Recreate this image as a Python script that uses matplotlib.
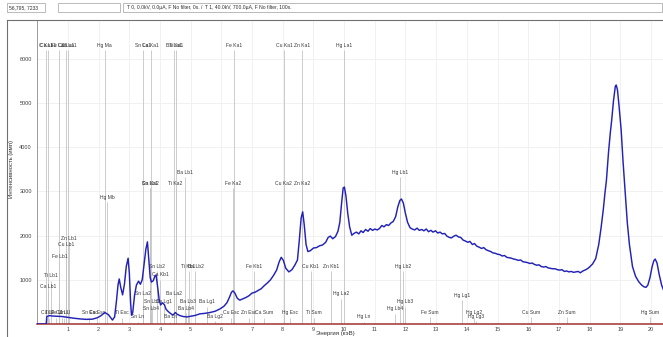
import matplotlib
matplotlib.use("Agg")
import matplotlib.pyplot as plt
from matplotlib.lines import Line2D
from matplotlib.patches import Rectangle

plt.rcParams['font.family'] = ['Liberation Sans', 'DejaVu Sans']

W, H = 663, 337

# ---------------------------------------------------------------------
# spectrum (keV, counts)
# ---------------------------------------------------------------------
energy = [
    0.00, 0.29, 0.31, 0.40, 0.50, 0.65, 0.80, 1.00, 1.20, 1.40, 1.60, 1.80,
    1.95, 2.08, 2.20, 2.32, 2.45, 2.52, 2.58, 2.63, 2.67, 2.72, 2.78, 2.84,
    2.90, 2.96, 3.00, 3.04, 3.07, 3.11, 3.17, 3.23, 3.30, 3.36, 3.42, 3.48,
    3.54, 3.59, 3.63, 3.68, 3.72, 3.78, 3.83, 3.87, 3.92, 3.97, 4.02, 4.08,
    4.14, 4.20, 4.27, 4.34, 4.42, 4.50, 4.56, 4.65, 4.75, 4.88, 5.00, 5.15,
    5.30, 5.45, 5.63, 5.80, 5.95, 6.08, 6.18, 6.26, 6.33, 6.38, 6.44, 6.52,
    6.60, 6.70, 6.80, 6.90, 7.00, 7.10, 7.20, 7.30, 7.40, 7.50, 7.60, 7.70,
    7.80, 7.88, 7.95, 8.02, 8.10, 8.20, 8.30, 8.40, 8.48, 8.54, 8.60, 8.65,
    8.70, 8.76, 8.82, 8.90, 9.00, 9.10, 9.20, 9.30, 9.40, 9.48, 9.55, 9.63,
    9.72, 9.80, 9.86, 9.92, 9.97, 10.01, 10.06, 10.12, 10.18, 10.25, 10.32,
    10.40, 10.48, 10.55, 10.62, 10.70, 10.78, 10.85, 10.93, 11.00, 11.08,
    11.15, 11.23, 11.30, 11.38, 11.45, 11.53, 11.60, 11.68, 11.75, 11.82,
    11.87, 11.93, 12.00, 12.07, 12.15, 12.22, 12.30, 12.38, 12.45, 12.53,
    12.60, 12.68, 12.75, 12.83, 12.90, 12.98, 13.05, 13.13, 13.20, 13.28,
    13.35, 13.43, 13.50, 13.58, 13.65, 13.73, 13.80, 13.88, 13.95, 14.03,
    14.10, 14.18, 14.25, 14.33, 14.40, 14.48, 14.55, 14.63, 14.70, 14.78,
    14.85, 14.93, 15.00, 15.08, 15.15, 15.23, 15.30, 15.38, 15.45, 15.53,
    15.60, 15.68, 15.75, 15.83, 15.90, 15.98, 16.05, 16.13, 16.20, 16.28,
    16.35, 16.43, 16.50, 16.58, 16.65, 16.73, 16.80, 16.88, 16.95, 17.03,
    17.10, 17.18, 17.25, 17.33, 17.40, 17.48, 17.55, 17.63, 17.70, 17.78,
    17.85, 17.93, 18.00, 18.10, 18.20, 18.30, 18.38, 18.45, 18.50, 18.55,
    18.62, 18.68, 18.72, 18.78, 18.84, 18.87, 18.91, 18.96, 19.03, 19.09,
    19.16, 19.23, 19.30, 19.40, 19.50, 19.60, 19.70, 19.78, 19.84, 19.90,
    19.97, 20.04, 20.10, 20.14, 20.20, 20.27, 20.35, 20.45,
]
counts = [
    0, 0, 170, 190, 180, 175, 170, 150, 130, 115, 105, 110,
    140, 190, 260, 210, 90, 160, 520, 880, 1020, 830, 660, 900,
    1300, 1490, 1150, 500, 200, 260, 650, 880, 970, 900, 1000, 1350,
    1700, 1860, 1500, 1050, 950, 980, 1080, 1110, 850, 560, 430, 480,
    440, 330, 280, 240, 200, 260, 220, 190, 170, 160, 175, 195,
    230, 240, 260, 290, 340, 400, 480, 600, 720, 750, 700, 580,
    540, 570, 600, 640, 700, 720, 760, 800, 870, 930, 1000, 1100,
    1220, 1400, 1510, 1440, 1260, 1180, 1230, 1340, 1450, 1900, 2400, 2540,
    2250, 1800, 1640, 1660, 1720, 1730, 1770, 1790, 1850, 1960, 1990, 1930,
    1980, 2100, 2300, 2750, 3080, 3100, 2900, 2500, 2200, 2010, 2050,
    2080, 2040, 2110, 2070, 2140, 2100, 2160, 2120, 2150, 2130,
    2160, 2230, 2200, 2250, 2230, 2290, 2320, 2430, 2650, 2800,
    2830, 2740, 2500, 2300, 2180, 2150, 2130, 2170, 2120, 2140,
    2110, 2150, 2090, 2120, 2080, 2110, 2060, 2080, 2040, 2050,
    1990, 1960, 1950, 1990, 2010, 1970, 1960, 1900, 1880, 1850,
    1870, 1800, 1820, 1760, 1740, 1710, 1730, 1680, 1660, 1640,
    1610, 1600, 1580, 1570, 1540, 1550, 1510, 1500, 1490, 1470,
    1460, 1440, 1450, 1410, 1400, 1390, 1370, 1380, 1350, 1330,
    1340, 1300, 1290, 1300, 1270, 1260, 1250, 1250, 1230, 1220,
    1230, 1190, 1200, 1180, 1190, 1170, 1180, 1190, 1160, 1200,
    1220, 1250, 1290, 1360, 1480, 1800, 2200, 2600, 2950, 3250,
    3900, 4350, 4600, 5050, 5380, 5410, 5300, 4950, 4400, 3700,
    3000, 2300, 1800, 1300, 1080, 960, 880, 840, 830, 880,
    1050, 1300, 1440, 1470, 1380, 1120, 880, 700,
]

# ---------------------------------------------------------------------
# element line markers: name, energy (keV), label height (counts)
# ---------------------------------------------------------------------
line_names = [
    "C Ka1", "Ca La1", "Fe La1", "Cu La1", "Zn La1", "Hg Ma", "Sn La1", "Ca Ka1",
    "Ba La1", "Ti Ka1", "Fe Ka1", "Cu Ka1", "Zn Ka1", "Hg La1",
    "Ba Lb1", "Hg Lb1",
    "Sn Lb1", "Ca Ka2", "Ti Ka2", "Fe Ka2", "Cu Ka2", "Zn Ka2",
    "Hg Mb",
    "Zn Lb1", "Cu Lb1", "Fe Lb1", "Ti Lb1", "Ca Lb1",
    "Sn Lb2", "Ti Kb1", "Ba Lb2", "Fe Kb1", "Cu Kb1", "Zn Kb1", "Hg Lb2",
    "Ca Kb1",
    "Sn La2", "Ba La2", "Hg La2", "Hg Lg1",
    "Sn Lb3", "Sn Lg1", "Ba Lb3", "Ba Lg1", "Hg Lb3",
    "Sn Lb4", "Ba Lb4", "Hg Lb4",
    "Ca Ll", "Ti Ll", "Fe Ll", "Cu Ll", "Zn Ll", "Sn Esc", "Ca Esc", "Ti Esc",
    "Cu Esc", "Zn Esc", "Ca Sum", "Hg Esc", "Ti Sum",
    "Fe Sum", "Cu Sum", "Zn Sum", "Hg Sum", "Hg Lg2",
    "Sn Ln", "Ba Ln", "Ba Lg2", "Hg Ln", "Hg Lg3",
]
line_kev = [
    0.277, 0.341, 0.705, 0.930, 1.012, 2.195, 3.444, 3.692,
    4.466, 4.511, 6.404, 8.048, 8.639, 9.989,
    4.828, 11.823,
    3.663, 3.688, 4.505, 6.391, 8.028, 8.616,
    2.282,
    1.035, 0.950, 0.718, 0.458, 0.344,
    3.905, 4.932, 5.156, 7.058, 8.905, 9.572, 11.924,
    4.013,
    3.436, 4.451, 9.897, 13.830,
    3.750, 4.131, 4.926, 5.531, 11.990,
    3.708, 4.852, 11.650,
    0.302, 0.395, 0.615, 0.811, 0.884, 1.700, 1.950, 2.770,
    6.310, 6.900, 7.380, 8.250, 9.020,
    12.800, 16.100, 17.270, 19.980, 14.230,
    3.272, 4.331, 5.800, 10.650, 14.300,
]
line_rows = [
    6316, 6316, 6316, 6316, 6316, 6316, 6316, 6316,
    6316, 6316, 6316, 6316, 6316, 6316,
    3440, 3440,
    3190, 3190, 3190, 3190, 3190, 3190,
    2875,
    1925, 1790, 1517, 1087, 860,
    1313, 1313, 1313, 1313, 1313, 1313, 1313,
    1110,
    700, 700, 680, 656,
    500, 500, 500, 500, 500,
    360, 360, 340,
    250, 250, 250, 250, 250, 250, 250, 250,
    250, 250, 250, 250, 250,
    260, 260, 260, 260, 250,
    160, 160, 180, 160, 170,
]

x_ticks = list(range(1, 21))
y_ticks = [1000, 2000, 3000, 4000, 5000, 6000]


def fx(px):
    return px / W


def fy(py):
    return 1 - py / H


fig = plt.figure(figsize=(W / 100, H / 100), dpi=100)
ax = fig.add_axes([fx(37.3), fy(324), fx(W - 37.3), (324 - 20) / H])

ax.set_xlim(0, (W - 37.3) / 30.68)
ax.set_ylim(0, 304 / 44.17 * 1000)

ax.grid(True, color="#efefef", lw=0.6, zorder=0)
ax.set_axisbelow(True)

# element lines and their labels
for name, kev, row in zip(line_names, line_kev, line_rows):
    ax.vlines(kev, 0, row - 110, color="#c4c4c4", lw=0.6, zorder=1)
    ax.text(kev, row, name, ha="center", va="center", fontsize=3.6,
            color="#3a3a3a", zorder=2)

ax.plot(energy, counts, color="#2222b6", lw=1.05, zorder=3)

ax.set_xticks(x_ticks)
ax.set_yticks(y_ticks)
ax.tick_params(axis="both", length=0, labelsize=4, colors="#404040")
ax.tick_params(axis="x", pad=2.5)
ax.tick_params(axis="y", pad=4)

for s in ("top", "right"):
    ax.spines[s].set_visible(False)
ax.spines["left"].set_color("#9a9a9a")
ax.spines["left"].set_linewidth(0.7)
ax.spines["bottom"].set_color("#a03030")
ax.spines["bottom"].set_linewidth(1.1)

fig.text(fx(12), fy(169), "Интенсивность (имп)", rotation=90,
         ha="center", va="center", fontsize=4.3, color="#303030")
fig.text(fx(335), fy(334), "Энергия (кэВ)", ha="center", va="center",
         fontsize=4.3, color="#303030")

# header strip with status boxes
for x0, x1 in [(7, 45), (58, 120), (123, 662)]:
    fig.add_artist(Rectangle((fx(x0), fy(12)), fx(x1 - x0), 9 / H,
                             transform=fig.transFigure, fill=False,
                             ec="#b0b0b0", lw=0.6))
fig.text(fx(9), fy(7.5), "56,795, 7233", ha="left", va="center",
         fontsize=3.6, color="#303030")
fig.text(fx(127), fy(7.5),
         "T 0, 0.0kV, 0.0\u00b5A, F No filter, 0s. /  T 1, 40.0kV, 700.0\u00b5A, F No filter, 100s.",
         ha="left", va="center", fontsize=3.6, color="#303030")

# outer panel frame
fig.add_artist(Line2D([fx(7), fx(W)], [fy(20), fy(20)], color="#707070", lw=0.8))
fig.add_artist(Line2D([fx(7), fx(7)], [fy(20), fy(H)], color="#707070", lw=0.8))

fig.savefig("out.png", dpi=100)
